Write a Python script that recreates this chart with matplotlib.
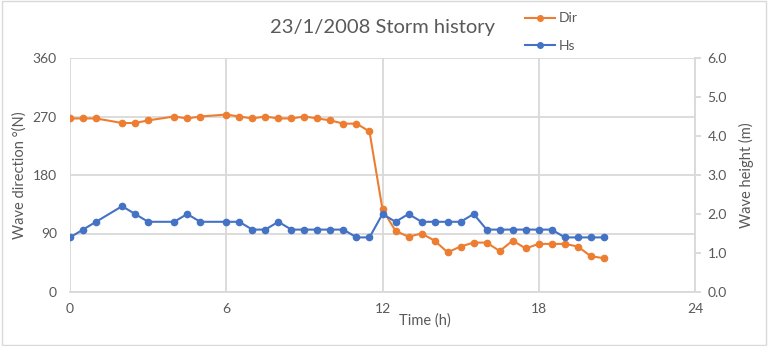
import matplotlib.pyplot as plt
from matplotlib.lines import Line2D

# Time (h), wave direction (deg N), significant wave height (m)
time_h = [0, 0.5, 1, 2, 2.5, 3, 4, 4.5, 5, 6, 6.5, 7, 7.5, 8, 8.5, 9, 9.5, 10,
          10.5, 11, 11.5, 12, 12.5, 13, 13.5, 14, 14.5, 15, 15.5, 16, 16.5, 17,
          17.5, 18, 18.5, 19, 19.5, 20, 20.5]
direction = [267, 267, 267, 260, 260, 264, 270, 267, 270, 273, 270, 267, 270, 267,
             267, 270, 267, 264, 259, 259, 247, 127, 94, 85, 90, 79, 61, 70, 76,
             76, 63, 79, 67, 74, 74, 74, 70, 55, 52]
hs = [1.4, 1.6, 1.8, 2.2, 2.0, 1.8, 1.8, 2.0, 1.8, 1.8, 1.8, 1.6, 1.6, 1.8, 1.6,
      1.6, 1.6, 1.6, 1.6, 1.4, 1.4, 2.0, 1.8, 2.0, 1.8, 1.8, 1.8, 1.8, 2.0, 1.6,
      1.6, 1.6, 1.6, 1.6, 1.6, 1.4, 1.4, 1.4, 1.4]

dir_ticks = [0, 90, 180, 270, 360]
hs_ticks = [0.0, 1.0, 2.0, 3.0, 4.0, 5.0, 6.0]
time_ticks = [0, 6, 12, 18, 24]

orange = '#ED7D31'
blue = '#4472C4'
txt = '#595959'
grid = '#D9D9D9'

plt.rcParams['font.family'] = ['Lato', 'DejaVu Sans']

fig = plt.figure(figsize=(7.68, 3.46), dpi=100)
fig.patches.append(plt.Rectangle((0.002, 0.003), 0.996, 0.994, transform=fig.transFigure,
                                 fill=False, edgecolor='#D9D9D9', linewidth=1))
ax = fig.add_axes([70/768, 1 - 292/346, 625/768, 234/346])
ax2 = ax.twinx()

ax.plot(time_h, direction, color=orange, marker='o', markersize=4.5, linewidth=1.5, zorder=3)
ax2.plot(time_h, hs, color=blue, marker='o', markersize=4.5, linewidth=1.5, zorder=3)

ax.set_xlim(0, 24)
ax.set_ylim(0, 360)
ax2.set_ylim(0, 6)
ax.set_xticks(time_ticks)
ax.set_yticks(dir_ticks)
ax2.set_yticks(hs_ticks)
ax2.set_yticklabels(['%.1f' % v for v in hs_ticks])

ax.grid(True, color=grid, linewidth=1.3)
ax.set_axisbelow(True)
for a in (ax, ax2):
    for s in a.spines.values():
        s.set_visible(False)
ax2.spines['right'].set_visible(True)
ax2.spines['right'].set_color(grid)
ax2.spines['right'].set_linewidth(1.3)
ax.spines['bottom'].set_visible(True)
ax.spines['bottom'].set_color(grid)
ax.spines['bottom'].set_linewidth(1.3)

ax.tick_params(axis='both', length=0, labelsize=10, labelcolor=txt, pad=8)
ax.tick_params(axis='y', pad=9.5)
ax2.tick_params(axis='y', length=4, color=grid, width=1.3, labelsize=10, labelcolor=txt, pad=5)

ax.set_ylabel('Wave direction °(N)', fontsize=10.5, color=txt, labelpad=4)
ax2.set_ylabel('Wave height (m)', fontsize=10.5, color=txt, labelpad=9)
fig.text(425/768, 1 - 321/346, 'Time (h)', fontsize=10.5, color=txt, ha='center', va='center')
fig.text(383/768, 1 - 28/346, '23/1/2008 Storm history', fontsize=14.5, color=txt,
         ha='center', va='center')

handles = [Line2D([], [], color=orange, marker='o', markersize=4, linewidth=1.5),
           Line2D([], [], color=blue, marker='o', markersize=4, linewidth=1.5)]
fig.legend(handles, ['Dir', 'Hs'], loc='center left', bbox_to_anchor=(512/768, 1 - 32/346),
           frameon=False, fontsize=10, labelcolor=txt, handlelength=2.2,
           handletextpad=0.3, labelspacing=1.1)

fig.savefig('out.png', dpi=100)
